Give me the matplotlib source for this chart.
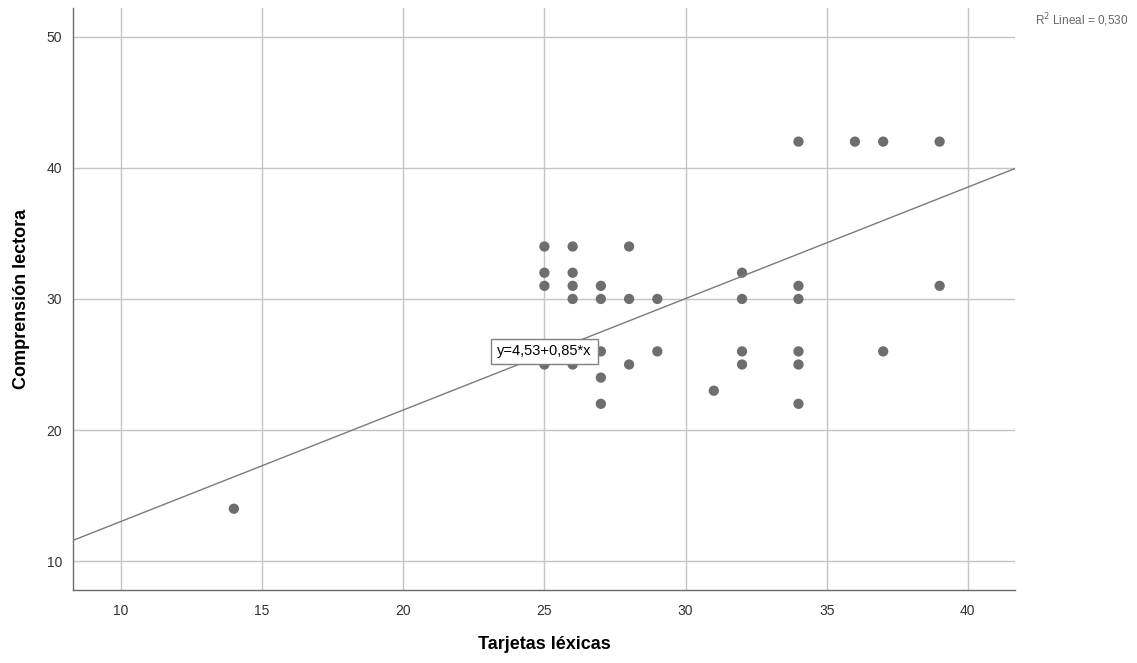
import numpy as np
from matplotlib import pyplot as plt

plt.rcParams['font.family'] = ['Liberation Sans', 'DejaVu Sans']

# Tarjetas lexicas (x) and Comprension lectora (y)
tarjetas = [14,
            25, 25, 25, 25, 25,
            26, 26, 26, 26, 26,
            27, 27, 27, 27, 27,
            28, 28, 28,
            29, 29,
            31,
            32, 32, 32, 32,
            34, 34, 34, 34, 34, 34,
            36,
            37, 37,
            39, 39]
comprension = [14,
               34, 32, 31, 26, 25,
               34, 32, 31, 30, 25,
               31, 30, 26, 24, 22,
               34, 30, 25,
               30, 26,
               23,
               32, 30, 26, 25,
               42, 31, 30, 26, 25, 22,
               42,
               42, 26,
               42, 31]

intercept = 4.53
slope = 0.85
r_squared = 0.530

x_ticks = [10, 15, 20, 25, 30, 35, 40]
y_ticks = [10, 20, 30, 40, 50]

fig = plt.figure(figsize=(11.37, 6.63), dpi=100)
ax = fig.add_axes([0.0642, 0.1101, 0.8285, 0.878])

ax.set_xlim(8.3, 41.67)
ax.set_ylim(7.8, 52.2)

ax.set_xticks(x_ticks)
ax.set_yticks(y_ticks)
ax.grid(True, color="#c4c4c4", linewidth=1.0)
ax.set_axisbelow(True)

for side in ["top", "right"]:
    ax.spines[side].set_visible(False)
for side in ["left", "bottom"]:
    ax.spines[side].set_color("#6a6a6a")
    ax.spines[side].set_linewidth(1.0)

ax.tick_params(length=0, labelsize=10, labelcolor="#333333")
ax.tick_params(axis="x", pad=10)
ax.tick_params(axis="y", pad=8)

ax.scatter(tarjetas, comprension, s=55, color="#6e6e6e", edgecolors="none", zorder=3)

# fitted line across the full x range
x_line = np.array(ax.get_xlim())
y_line = intercept + slope * x_line
ax.plot(x_line, y_line, color="#7a7a7a", linewidth=1.0, zorder=4)

label = f"y={intercept:.2f}+{slope:.2f}*x".replace(".", ",")
ax.text(25, 26, label, fontsize=10.5, ha="center", va="center",
        zorder=5, bbox=dict(boxstyle="square,pad=0.4", facecolor="white", edgecolor="#808080", linewidth=1.0))

fig.text(0.9925, 0.97, f"R$^2$ Lineal = {r_squared:.3f}".replace(".", ","), fontsize=8.5,
         color="#666666", ha="right", va="center")

ax.set_xlabel("Tarjetas léxicas", fontsize=13, fontweight="bold", labelpad=13)
ax.set_ylabel("Comprensión lectora", fontsize=13, fontweight="bold", labelpad=12)

fig.savefig("out.png", dpi=100)
